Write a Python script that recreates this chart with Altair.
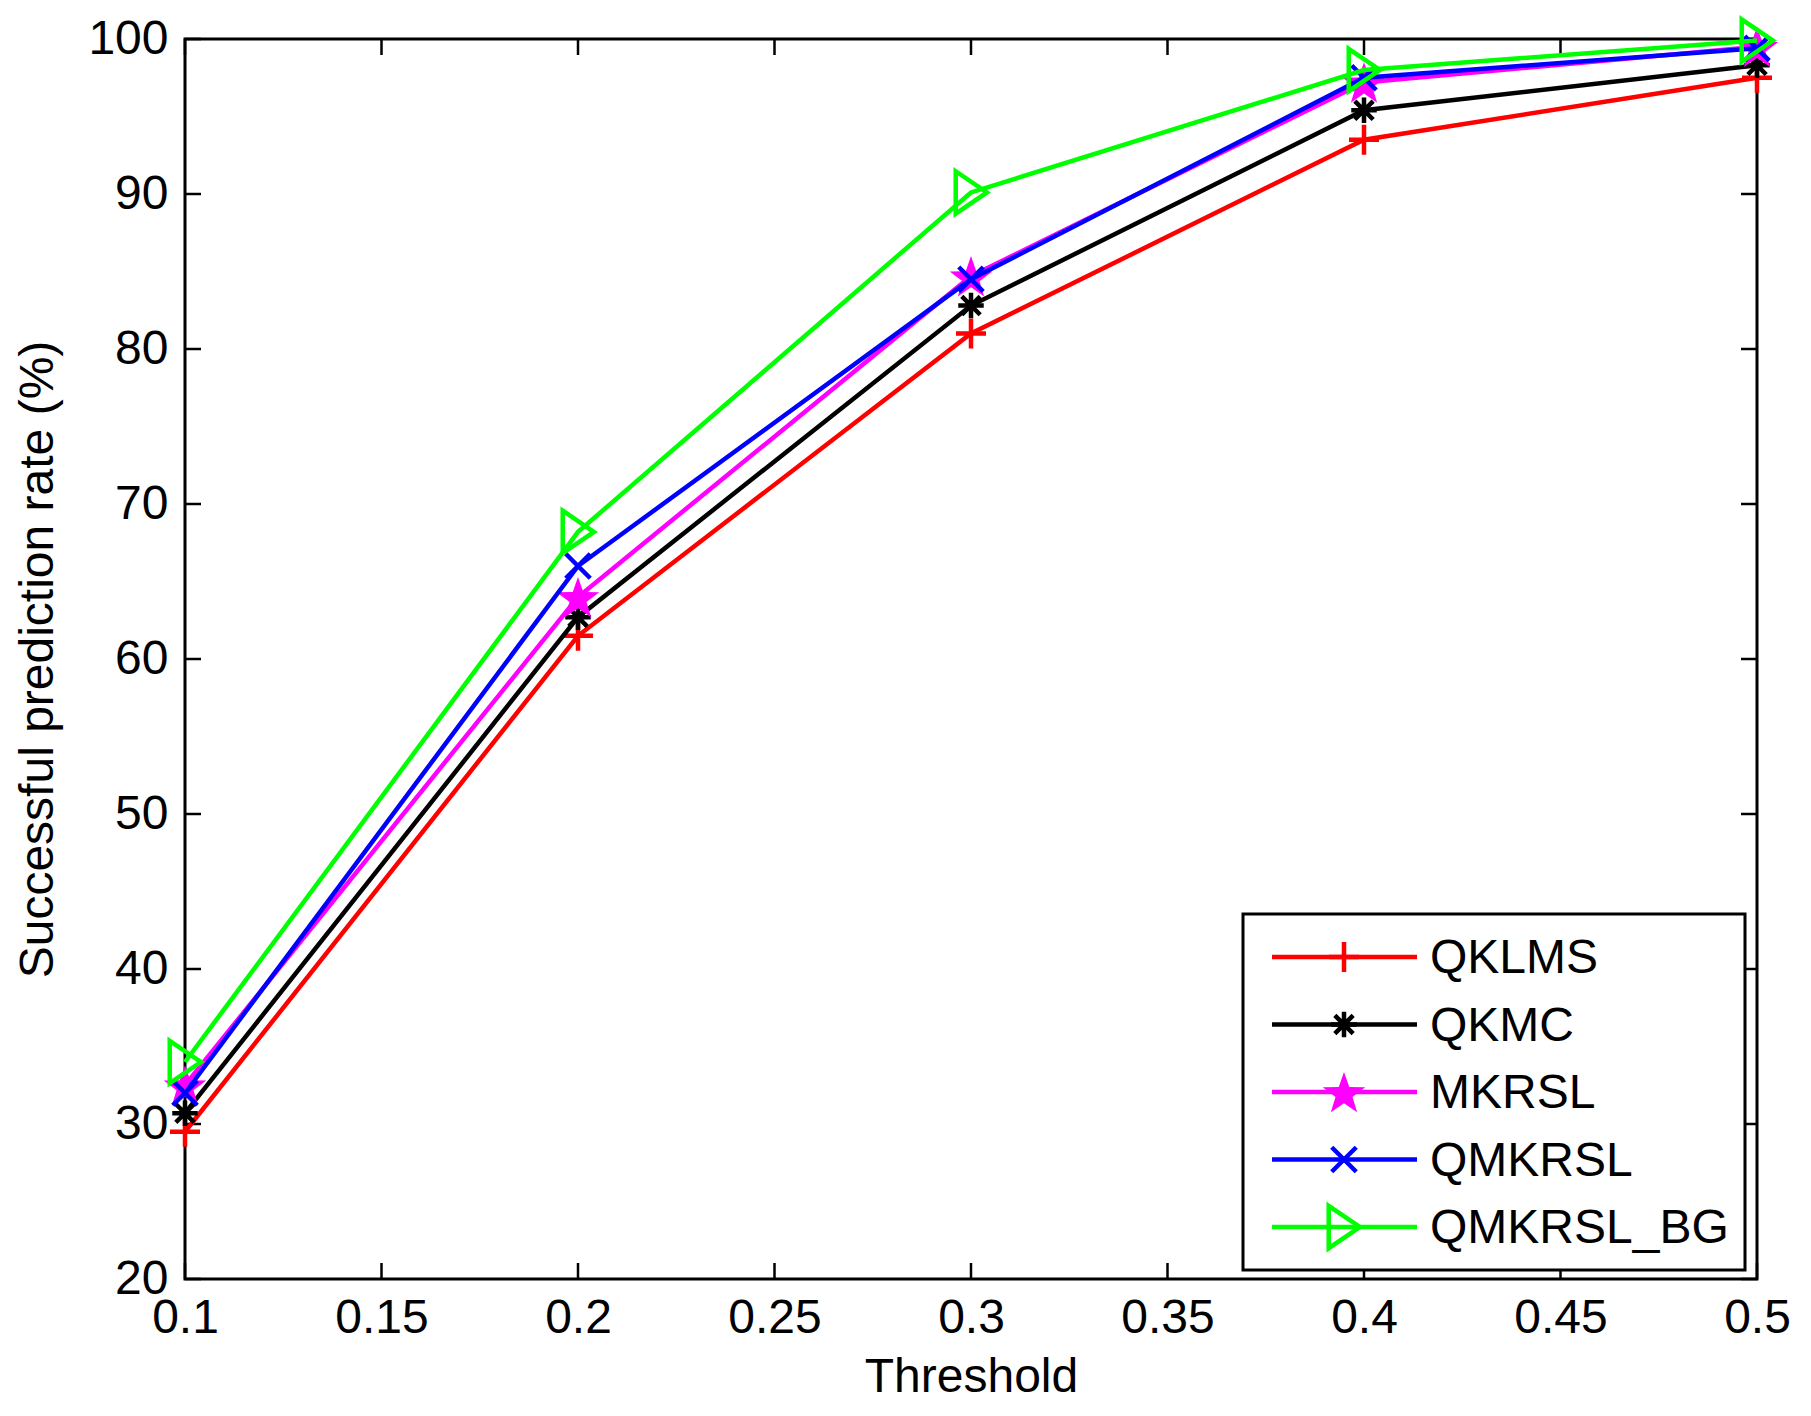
import math
import altair as alt
import pandas as pd

# ---------------- data ----------------
thresholds = [0.1, 0.2, 0.3, 0.4, 0.5]
series_names = ["QKLMS", "QKMC", "MKRSL", "QMKRSL", "QMKRSL_BG"]
qklms = [29.5, 61.5, 81.0, 93.5, 97.5]
qkmc = [30.7, 62.7, 82.8, 95.4, 98.3]
mkrsl = [32.5, 64.0, 84.7, 97.2, 99.5]
qmkrsl = [32.0, 66.0, 84.5, 97.5, 99.4]
qmkrsl_bg = [34.0, 68.2, 90.1, 98.0, 99.9]
series_values = [qklms, qkmc, mkrsl, qmkrsl, qmkrsl_bg]

x_ticks = [0.1, 0.15, 0.2, 0.25, 0.3, 0.35, 0.4, 0.45, 0.5]
y_ticks = [20, 30, 40, 50, 60, 70, 80, 90, 100]

colors = ["#FF0000", "#000000", "#FF00FF", "#0000FF", "#00FF00"]

# ---------------- marker shapes ----------------
plus_path = "M-1,0L1,0M0,-1L0,1"
ast_path = "M-1,0L1,0M0,-1L0,1M-0.72,-0.72L0.72,0.72M-0.72,0.72L0.72,-0.72"
x_path = "M-1,-1L1,1M-1,1L1,-1"
tri_path = "M-0.72,-1L0.75,0L-0.72,1Z"
pts = []
for i in range(10):
    r = 1.0 if i % 2 == 0 else 0.40
    a = math.radians(-90 + 36 * i)
    pts.append(f"{r * math.cos(a):.3f},{r * math.sin(a) + 0.1:.3f}")
star_path = "M" + "L".join(pts) + "Z"

markers = [
    dict(shape=plus_path, size=900, filled=False),
    dict(shape=ast_path, size=650, filled=False),
    dict(shape=star_path, size=2000, filled=True),
    dict(shape=x_path, size=600, filled=False),
    dict(shape=tri_path, size=1800, filled=False),
]

W, H = 1572, 1240
FONT = "Liberation Sans"
FS = 48
LW = 4.5

xs = alt.Scale(domain=[0.1, 0.5], nice=False, zero=False)
ys = alt.Scale(domain=[20, 100], nice=False, zero=False)
x_axis = alt.Axis(title="Threshold", values=x_ticks, format="~g", labelPadding=15,
                  titlePadding=11, labelFlush=False, labelOverlap=False)
y_axis = alt.Axis(title="Successful prediction rate (%)", values=y_ticks, labelPadding=17,
                  titlePadding=25, labelOverlap=False)
X = alt.X("x:Q", scale=xs, axis=x_axis)
Y = alt.Y("y:Q", scale=ys, axis=y_axis)

layers = []

# inward ticks on all four sides
xt = pd.DataFrame({"x": x_ticks})
yt = pd.DataFrame({"y": y_ticks})
TL = 16
layers.append(alt.Chart(xt).mark_rule(color="black", strokeWidth=2.5).encode(
    x=X, y=alt.value(H), y2=alt.value(H - TL)))
layers.append(alt.Chart(xt).mark_rule(color="black", strokeWidth=2.5).encode(
    x=X, y=alt.value(0), y2=alt.value(TL)))
layers.append(alt.Chart(yt).mark_rule(color="black", strokeWidth=2.5).encode(
    y=Y, x=alt.value(0), x2=alt.value(TL)))
layers.append(alt.Chart(yt).mark_rule(color="black", strokeWidth=2.5).encode(
    y=Y, x=alt.value(W), x2=alt.value(W - TL)))

# series
for name, vals, col, mk in zip(series_names, series_values, colors, markers):
    df = pd.DataFrame({"x": thresholds, "y": vals, "series": name})
    base = alt.Chart(df)
    layers.append(base.mark_line(color=col, strokeWidth=LW).encode(x=X, y=Y))
    layers.append(base.mark_point(shape=mk["shape"], size=mk["size"], filled=mk["filled"],
                                  color=col, strokeWidth=LW, opacity=1).encode(x=X, y=Y))

# legend box
box = pd.DataFrame({"k": [0]})
layers.append(alt.Chart(box).mark_rect(fill="white", stroke="black", strokeWidth=3).encode(
    x=alt.value(1058), x2=alt.value(1560), y=alt.value(875), y2=alt.value(1231)))

for i, (name, col, mk) in enumerate(zip(series_names, colors, markers)):
    ly = 918 + i * 67.5
    d = pd.DataFrame({"name": [name]})
    c = alt.Chart(d)
    layers.append(c.mark_rule(color=col, strokeWidth=LW).encode(
        x=alt.value(1087), x2=alt.value(1232), y=alt.value(ly)))
    layers.append(c.mark_point(shape=mk["shape"], size=mk["size"], filled=mk["filled"],
                               color=col, strokeWidth=LW, opacity=1).encode(
        x=alt.value(1159), y=alt.value(ly)))
    layers.append(c.mark_text(align="left", baseline="middle", font=FONT, fontSize=FS,
                              color="black").encode(
        x=alt.value(1245), y=alt.value(ly + 2), text="name:N"))

chart = alt.layer(*layers).properties(
    width=W, height=H, background="white",
    padding={"left": 6, "top": 2, "right": 5, "bottom": 2},
).configure_view(
    stroke="black", strokeWidth=3
).configure_axis(
    grid=False, domain=False, ticks=False,
    labelFont=FONT, labelFontSize=FS, labelColor="black",
    titleFont=FONT, titleFontSize=FS, titleFontWeight="normal", titleColor="black",
)

chart.save("out.html", embed_options={"renderer": "svg", "actions": False})
